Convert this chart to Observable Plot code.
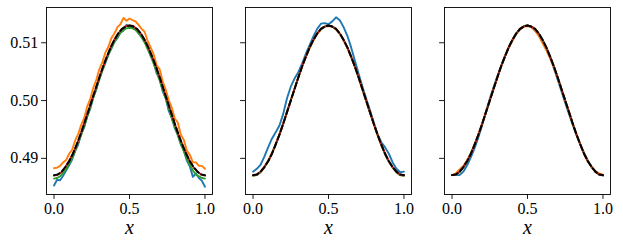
<!DOCTYPE html>
<html>
<head>
<meta charset="utf-8">
<script src="https://cdn.jsdelivr.net/npm/d3@7"></script>
<script src="https://cdn.jsdelivr.net/npm/@observablehq/plot@0.6"></script>
<style>
  html, body { margin: 0; padding: 0; background: white; }
  svg, svg text { font-family: "Liberation Serif", "DejaVu Serif", serif !important; }
</style>
</head>
<body>
<div id="chart"></div>
<script>
// x grids
const xs41 = [0,0.025,0.05,0.075,0.1,0.125,0.15,0.175,0.2,0.225,0.25,0.275,0.3,0.325,0.35,0.375,0.4,0.425,0.45,0.475,0.5,0.525,0.55,0.575,0.6,0.625,0.65,0.675,0.7,0.725,0.75,0.775,0.8,0.825,0.85,0.875,0.9,0.925,0.95,0.975,1];
const xs51 = [0,0.02,0.04,0.06,0.08,0.1,0.12,0.14,0.16,0.18,0.2,0.22,0.24,0.26,0.28,0.3,0.32,0.34,0.36,0.38,0.4,0.42,0.44,0.46,0.48,0.5,0.52,0.54,0.56,0.58,0.6,0.62,0.64,0.66,0.68,0.7,0.72,0.74,0.76,0.78,0.8,0.82,0.84,0.86,0.88,0.9,0.92,0.94,0.96,0.98,1];

// exact solution (black dashed), same in every panel
const exact = [0.4871,0.4872,0.4877,0.4885,0.4895,0.4908,0.4924,0.4941,0.4960,0.4980,0.5000,0.5020,0.5040,0.5059,0.5076,0.5092,0.5105,0.5116,0.5124,0.5128,0.5130,0.5128,0.5124,0.5116,0.5105,0.5092,0.5076,0.5059,0.5040,0.5020,0.5000,0.4980,0.4960,0.4941,0.4924,0.4908,0.4895,0.4885,0.4877,0.4872,0.4871];

// panel 1 (noisy, on xs51)
const p1Blue = [0.4853,0.4863,0.4862,0.4870,0.4879,0.4888,0.4898,0.4913,0.4924,0.4942,0.4954,0.4973,0.4986,0.5006,0.5019,0.5038,0.5052,0.5065,0.5080,0.5090,0.5102,0.5108,0.5118,0.5121,0.5131,0.5127,0.5126,0.5124,0.5116,0.5112,0.5101,0.5094,0.5077,0.5067,0.5047,0.5037,0.5016,0.5004,0.4982,0.4970,0.4952,0.4941,0.4924,0.4914,0.4896,0.4886,0.4868,0.4874,0.4866,0.4861,0.4851];
const p1Orange = [0.4883,0.4884,0.4887,0.4893,0.4897,0.4908,0.4915,0.4931,0.4942,0.4958,0.4970,0.4990,0.5003,0.5022,0.5036,0.5054,0.5066,0.5083,0.5093,0.5108,0.5116,0.5127,0.5132,0.5143,0.5138,0.5142,0.5139,0.5137,0.5131,0.5124,0.5119,0.5103,0.5092,0.5080,0.5061,0.5054,0.5033,0.5019,0.5001,0.4988,0.4969,0.4962,0.4941,0.4932,0.4913,0.4906,0.4893,0.4893,0.4887,0.4887,0.4882];
const p1Green = [0.4865,0.4866,0.4869,0.4875,0.4881,0.4891,0.4901,0.4913,0.4927,0.4941,0.4956,0.4972,0.4988,0.5005,0.5021,0.5036,0.5052,0.5066,0.5079,0.5091,0.5101,0.5110,0.5117,0.5122,0.5125,0.5126,0.5125,0.5122,0.5117,0.5109,0.5101,0.5089,0.5078,0.5064,0.5050,0.5035,0.5019,0.5004,0.4987,0.4970,0.4955,0.4940,0.4926,0.4912,0.4899,0.4889,0.4879,0.4872,0.4869,0.4866,0.4865];
const p1Red = [0.4870,0.4872,0.4876,0.4885,0.4896,0.4908,0.4923,0.4941,0.4961,0.4980,0.5001,0.5020,0.5040,0.5058,0.5076,0.5092,0.5106,0.5116,0.5124,0.5129,0.5130,0.5129,0.5123,0.5116,0.5105,0.5091,0.5076,0.5059,0.5041,0.5020,0.5000,0.4979,0.4960,0.4941,0.4924,0.4909,0.4895,0.4884,0.4877,0.4872,0.4870];

// panel 2 (on xs41)
const p2Blue = [0.4877,0.4882,0.4889,0.4903,0.4919,0.4934,0.4945,0.4957,0.4977,0.5004,0.5024,0.5038,0.5049,0.5064,0.5081,0.5096,0.5111,0.5124,0.5133,0.5134,0.5132,0.5137,0.5144,0.5139,0.5127,0.5112,0.5092,0.5069,0.5046,0.5024,0.5003,0.4983,0.4962,0.4942,0.4928,0.4919,0.4908,0.4893,0.4882,0.4876,0.4877];
const p2Orange = [0.4870,0.4872,0.4877,0.4886,0.4896,0.4909,0.4925,0.4942,0.4961,0.4981,0.5001,0.5021,0.5041,0.5059,0.5076,0.5091,0.5104,0.5115,0.5123,0.5128,0.5129,0.5128,0.5123,0.5115,0.5104,0.5091,0.5075,0.5058,0.5039,0.5019,0.4999,0.4979,0.4959,0.4940,0.4923,0.4908,0.4895,0.4884,0.4876,0.4871,0.4870];
const p2Green = [0.4870,0.4871,0.4876,0.4884,0.4895,0.4908,0.4924,0.4941,0.4960,0.4980,0.5000,0.5020,0.5040,0.5059,0.5076,0.5092,0.5105,0.5116,0.5124,0.5128,0.5130,0.5128,0.5124,0.5116,0.5105,0.5092,0.5076,0.5058,0.5039,0.5019,0.4999,0.4979,0.4960,0.4941,0.4923,0.4907,0.4894,0.4884,0.4876,0.4871,0.4870];
const p2Red = [0.4871,0.4872,0.4877,0.4885,0.4895,0.4908,0.4924,0.4941,0.4960,0.4980,0.5000,0.5020,0.5040,0.5059,0.5076,0.5092,0.5105,0.5116,0.5124,0.5128,0.5130,0.5128,0.5124,0.5116,0.5105,0.5092,0.5076,0.5059,0.5040,0.5020,0.5000,0.4980,0.4960,0.4941,0.4924,0.4908,0.4895,0.4885,0.4877,0.4872,0.4871];

// panel 3 (on xs41)
const p3Blue = [0.4871,0.4871,0.4871,0.4877,0.4888,0.4902,0.4918,0.4937,0.4958,0.4981,0.5003,0.5023,0.5042,0.5060,0.5076,0.5091,0.5104,0.5115,0.5123,0.5128,0.5130,0.5127,0.5121,0.5113,0.5103,0.5090,0.5074,0.5056,0.5036,0.5016,0.4996,0.4977,0.4958,0.4940,0.4924,0.4909,0.4896,0.4886,0.4877,0.4872,0.4870];
const p3Orange = [0.4871,0.4874,0.4881,0.4887,0.4897,0.4909,0.4925,0.4942,0.4961,0.4980,0.5000,0.5020,0.5040,0.5059,0.5076,0.5091,0.5104,0.5115,0.5123,0.5128,0.5129,0.5127,0.5121,0.5112,0.5099,0.5087,0.5073,0.5057,0.5040,0.5020,0.5000,0.4980,0.4960,0.4941,0.4924,0.4908,0.4895,0.4885,0.4878,0.4874,0.4872];
const p3Green = [0.4871,0.4872,0.4876,0.4884,0.4895,0.4908,0.4924,0.4941,0.4960,0.4980,0.5000,0.5021,0.5040,0.5059,0.5076,0.5092,0.5105,0.5116,0.5124,0.5129,0.5130,0.5128,0.5124,0.5116,0.5105,0.5091,0.5076,0.5059,0.5040,0.5020,0.5000,0.4980,0.4960,0.4941,0.4924,0.4908,0.4895,0.4885,0.4877,0.4872,0.4871];
const p3Red = [0.4871,0.4872,0.4877,0.4885,0.4895,0.4908,0.4924,0.4941,0.4960,0.4980,0.5000,0.5020,0.5040,0.5059,0.5076,0.5092,0.5105,0.5116,0.5124,0.5128,0.5130,0.5128,0.5124,0.5116,0.5105,0.5092,0.5076,0.5059,0.5040,0.5020,0.5000,0.4980,0.4960,0.4941,0.4924,0.4908,0.4895,0.4885,0.4877,0.4872,0.4871];

const panels = [1, 2, 3];
const xTicks = [0, 0.5, 1];
const yTicks = [0.49, 0.50, 0.51];
const xLabel = "x";

const colors = {blue: "#1f77b4", orange: "#ff7f0e", green: "#2ca02c", red: "#d62728", black: "#000000"};
const serif = "Liberation Serif";

function rows(panel, xs, ys) {
  return ys.map((y, i) => ({panel, x: xs[i], y}));
}

const blueRows = [...rows(1, xs51, p1Blue), ...rows(2, xs41, p2Blue), ...rows(3, xs41, p3Blue)];
const orangeRows = [...rows(1, xs51, p1Orange), ...rows(2, xs41, p2Orange), ...rows(3, xs41, p3Orange)];
const greenRows = [...rows(1, xs51, p1Green), ...rows(2, xs41, p2Green), ...rows(3, xs41, p3Green)];
const redRows = [...rows(1, xs41, p1Red), ...rows(2, xs41, p2Red), ...rows(3, xs41, p3Red)];
const blackRows = panels.flatMap(p => rows(p, xs41, exact));

const lw = 1.9;
const chart = Plot.plot({
  width: 623,
  height: 250,
  marginLeft: 45,
  marginRight: 11.3,
  marginTop: 7,
  marginBottom: 56,
  style: {fontFamily: serif, fontSize: "16px", color: "black", background: "white"},
  fx: {domain: panels, paddingInner: 0.165, paddingOuter: 0, axis: null},
  x: {domain: [-0.05, 1.05], label: null},
  y: {domain: [0.48375, 0.5161], label: null},
  marks: [
    Plot.line(blueRows, {x: "x", y: "y", fx: "panel", stroke: colors.blue, strokeWidth: lw}),
    Plot.line(orangeRows, {x: "x", y: "y", fx: "panel", stroke: colors.orange, strokeWidth: lw}),
    Plot.line(greenRows, {x: "x", y: "y", fx: "panel", stroke: colors.green, strokeWidth: lw}),
    Plot.line(redRows, {x: "x", y: "y", fx: "panel", stroke: colors.red, strokeWidth: lw}),
    Plot.line(blackRows, {x: "x", y: "y", fx: "panel", stroke: colors.black, strokeWidth: 2, strokeDasharray: "6,3"}),
    Plot.frame({stroke: "black", strokeWidth: 0.9}),
    Plot.axisX({ticks: xTicks, tickFormat: d3.format(".1f"), tickSize: 4.9, tickPadding: 3.5, strokeWidth: 0.9, label: null, fontFamily: serif, fontSize: 16}),
    Plot.axisY({ticks: yTicks, tickSize: 4.9, text: null, strokeWidth: 0.9, label: null, facetAnchor: null}),
    Plot.axisY({ticks: yTicks, tickFormat: d3.format(".2f"), tickSize: 0, tickPadding: 8.3, label: null, fontFamily: serif, fontSize: 16}),
    Plot.text([xLabel], {text: d => d, frameAnchor: "bottom", lineAnchor: "middle", dy: 33, fontSize: 20, fontStyle: "italic", fontFamily: serif})
  ]
});
document.getElementById("chart").appendChild(chart);
</script>
</body>
</html>
